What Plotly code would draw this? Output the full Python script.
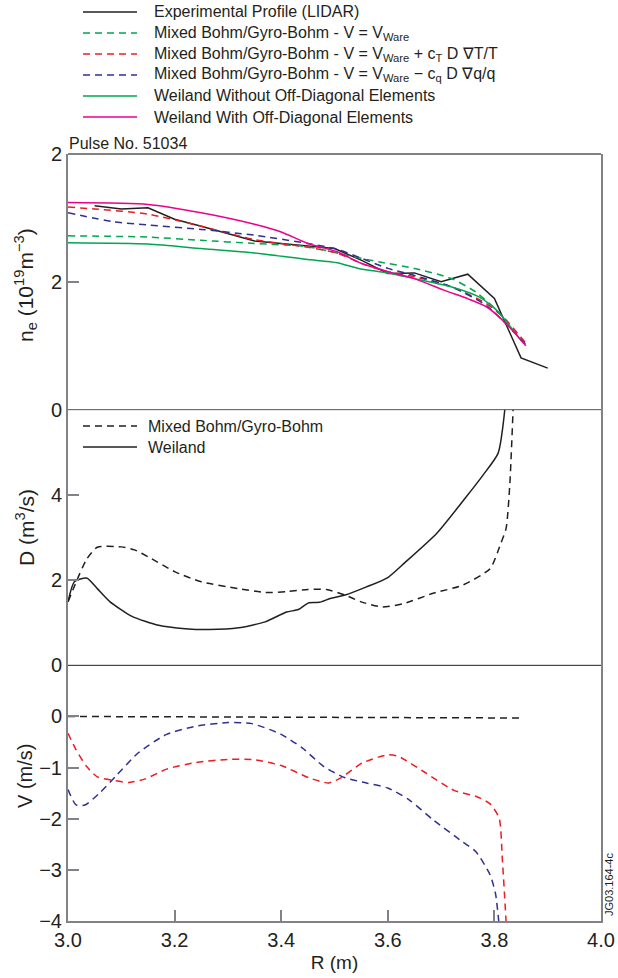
import plotly.graph_objects as go

# ---------------- data ----------------
# Panel 1: density profiles n_e (1e19 m^-3)
R_lidar = [3.05, 3.10, 3.15, 3.20, 3.25, 3.30, 3.35, 3.40, 3.45, 3.50, 3.55, 3.60, 3.65, 3.70, 3.75, 3.80, 3.85, 3.90]
ne_lidar = [3.19, 3.14, 3.16, 2.98, 2.87, 2.76, 2.64, 2.60, 2.56, 2.52, 2.34, 2.13, 2.14, 2.00, 2.12, 1.74, 0.81, 0.65]

R_mix_ware = [3.00, 3.15, 3.25, 3.35, 3.45, 3.52, 3.585, 3.65, 3.72, 3.765, 3.805, 3.852]
ne_mix_ware = [2.72, 2.70, 2.65, 2.60, 2.55, 2.42, 2.31, 2.21, 2.05, 1.84, 1.55, 1.08]

R_mix_T = [3.00, 3.05, 3.15, 3.25, 3.35, 3.45, 3.505, 3.55, 3.60, 3.65, 3.72, 3.785, 3.82, 3.86]
ne_mix_T = [3.17, 3.14, 3.06, 2.87, 2.66, 2.54, 2.45, 2.29, 2.16, 2.08, 1.92, 1.66, 1.42, 1.03]

R_mix_q = [3.00, 3.085, 3.15, 3.25, 3.35, 3.45, 3.505, 3.55, 3.60, 3.65, 3.72, 3.785, 3.86]
ne_mix_q = [3.08, 2.94, 2.89, 2.82, 2.73, 2.60, 2.51, 2.37, 2.21, 2.10, 1.92, 1.63, 1.01]

R_weil_nod = [3.00, 3.15, 3.25, 3.35, 3.45, 3.505, 3.545, 3.60, 3.65, 3.72, 3.772, 3.805, 3.852]
ne_weil_nod = [2.61, 2.59, 2.52, 2.45, 2.35, 2.30, 2.21, 2.14, 2.05, 1.92, 1.76, 1.55, 1.06]

R_weil_od = [3.00, 3.15, 3.25, 3.35, 3.40, 3.45, 3.505, 3.55, 3.60, 3.65, 3.705, 3.752, 3.785, 3.819, 3.859]
ne_weil_od = [3.24, 3.21, 3.08, 2.90, 2.78, 2.60, 2.47, 2.29, 2.16, 2.05, 1.87, 1.73, 1.61, 1.37, 1.00]

# Panel 2: diffusion coefficient D (m^2/s)
R_D_mix = [3.00, 3.035, 3.055, 3.10, 3.125, 3.15, 3.20, 3.25, 3.32, 3.37, 3.41, 3.45, 3.485, 3.52, 3.55,
           3.59, 3.63, 3.685, 3.74, 3.792, 3.812, 3.822, 3.829, 3.836]
D_mix = [1.49, 2.49, 2.77, 2.78, 2.71, 2.55, 2.20, 1.96, 1.80, 1.71, 1.73, 1.78, 1.78, 1.65, 1.49,
         1.37, 1.45, 1.69, 1.88, 2.27, 2.86, 3.22, 4.27, 6.3]

R_D_weil = [3.00, 3.012, 3.035, 3.055, 3.079, 3.12, 3.17, 3.22, 3.265, 3.32, 3.37, 3.41, 3.432, 3.452,
            3.472, 3.492, 3.52, 3.56, 3.60, 3.632, 3.692, 3.745, 3.779, 3.807, 3.822]
D_weil = [1.49, 1.96, 2.05, 1.80, 1.49, 1.15, 0.94, 0.86, 0.84, 0.88, 1.02, 1.25, 1.31, 1.47,
          1.48, 1.57, 1.65, 1.84, 2.06, 2.41, 3.10, 3.92, 4.47, 4.98, 6.3]

# Panel 3: convection velocity V (m/s)
R_V_ware = [3.00, 3.85]
V_ware = [0.00, -0.03]

R_V_T = [3.00, 3.015, 3.035, 3.055, 3.085, 3.115, 3.145, 3.185, 3.24, 3.30, 3.345, 3.40, 3.452, 3.489,
         3.512, 3.552, 3.60, 3.62, 3.672, 3.725, 3.765, 3.792, 3.809, 3.815, 3.823]
V_T = [-0.33, -0.65, -0.98, -1.18, -1.25, -1.29, -1.22, -1.03, -0.90, -0.84, -0.84, -0.96, -1.20, -1.30,
       -1.20, -0.91, -0.75, -0.78, -1.11, -1.45, -1.56, -1.71, -1.99, -2.81, -4.2]

R_V_q = [3.00, 3.015, 3.032, 3.059, 3.092, 3.132, 3.185, 3.24, 3.30, 3.345, 3.40, 3.44, 3.48, 3.52,
         3.56, 3.60, 3.64, 3.685, 3.74, 3.765, 3.792, 3.802, 3.810]
V_q = [-1.43, -1.73, -1.73, -1.50, -1.14, -0.71, -0.35, -0.19, -0.12, -0.14, -0.35, -0.62, -0.98, -1.20,
       -1.30, -1.40, -1.63, -2.02, -2.45, -2.64, -3.10, -3.46, -4.2]

x_ticks = [3.0, 3.2, 3.4, 3.6, 3.8, 4.0]
x_ticktext = ["3.0", "3.2", "3.4", "3.6", "3.8", "4.0"]
ne_ticks = [0, 2, 4]
ne_ticktext = ["0", "2", "2"]
D_ticks = [0, 2, 4]
D_ticktext = ["0", "2", "4"]
V_ticks = [0, -1, -2, -3, -4]
V_ticktext = ["0", "\u22121", "\u22122", "\u22123", "\u22124"]

legend1_names = [
    "Experimental Profile (LIDAR)",
    "Mixed Bohm/Gyro-Bohm - V = V<sub>Ware</sub>",
    "Mixed Bohm/Gyro-Bohm - V = V<sub>Ware</sub> + c<sub>T</sub> D \u2207T/T",
    "Mixed Bohm/Gyro-Bohm - V = V<sub>Ware</sub> \u2212 c<sub>q</sub> D \u2207q/q",
    "Weiland Without Off-Diagonal Elements",
    "Weiland With Off-Diagonal Elements",
]
legend2_names = ["Mixed Bohm/Gyro-Bohm", "Weiland"]

# ---------------- style ----------------
BLACK = "#231f20"
GREEN = "#00a651"
RED = "#ed1c24"
BLUE = "#2e3192"
MAGENTA = "#ec008c"
FRAME = "#808285"
FONT = "Liberation Sans, Arial, sans-serif"
DASH = "7px,5px"
LW = 1.5

W, H = 618, 978
ML, MR, MT, MB = 68, 17, 154, 57
PW = W - ML - MR
PH = H - MT - MB

def px_x(px):
    return (px - ML) / PW

def px_y(py):
    return (H - MB - py) / PH

fig = go.Figure()

def add(x, y, color, dash, name, yaxis, shape="spline"):
    fig.add_trace(go.Scatter(
        x=x, y=y, mode="lines", name=name, yaxis=yaxis, xaxis="x",
        line=dict(color=color, width=LW, dash=dash, shape=shape, smoothing=0.6),
        showlegend=False,
    ))

styles1 = [(BLACK, "solid"), (GREEN, DASH), (RED, DASH), (BLUE, DASH), (GREEN, "solid"), (MAGENTA, "solid")]
series1 = [(R_lidar, ne_lidar, "linear"), (R_mix_ware, ne_mix_ware, "spline"), (R_mix_T, ne_mix_T, "spline"),
           (R_mix_q, ne_mix_q, "spline"), (R_weil_nod, ne_weil_nod, "spline"), (R_weil_od, ne_weil_od, "spline")]
for (xs, ys, sh), (c, d), nm in zip(series1, styles1, legend1_names):
    add(xs, ys, c, d, nm, "y", shape=sh)

add(R_D_mix, D_mix, BLACK, DASH, legend2_names[0], "y2")
add(R_D_weil, D_weil, BLACK, "solid", legend2_names[1], "y2")

add(R_V_ware, V_ware, BLACK, DASH, "V_Ware", "y3", shape="linear")
add(R_V_T, V_T, RED, DASH, "V_T", "y3")
add(R_V_q, V_q, BLUE, DASH, "V_q", "y3")

yax_common = dict(
    showline=True, mirror=True, linecolor=FRAME, linewidth=2,
    ticks="inside", ticklen=11, tickcolor=FRAME, tickwidth=1.5,
    showgrid=False, zeroline=False,
    tickfont=dict(family=FONT, size=20, color=BLACK),
)

fig.update_layout(
    width=W, height=H,
    margin=dict(l=ML, r=MR, t=MT, b=MB, autoexpand=False),
    paper_bgcolor="white", plot_bgcolor="white",
    font=dict(family=FONT, color=BLACK),
    showlegend=False,
    xaxis=dict(
        range=[3.0, 4.0], domain=[0, 1], anchor="y3",
        tickvals=x_ticks, ticktext=x_ticktext,
        showline=True, mirror=False, linecolor=FRAME, linewidth=2,
        ticks="inside", ticklen=11, tickcolor=FRAME, tickwidth=1.5,
        showgrid=False, zeroline=False,
        tickfont=dict(family=FONT, size=20, color=BLACK),
        title=dict(text="R (m)", font=dict(family=FONT, size=19, color=BLACK), standoff=6),
    ),
    yaxis=dict(domain=[2/3, 1], range=[0, 4], tickvals=ne_ticks, ticktext=ne_ticktext, anchor="x", **yax_common),
    yaxis2=dict(domain=[1/3, 2/3], range=[0, 6], tickvals=D_ticks, ticktext=D_ticktext, anchor="x", **yax_common),
    yaxis3=dict(domain=[0, 1/3], range=[-4, 1], tickvals=V_ticks, ticktext=V_ticktext, anchor="x", **yax_common),
)

annotations = [
    dict(text="Pulse No. 51034", x=px_x(67), y=px_y(143), xref="paper", yref="paper",
         xanchor="left", yanchor="middle", showarrow=False, font=dict(family=FONT, size=16, color=BLACK)),
    dict(text="n<sub>e</sub> (10<sup>19</sup>m<sup>\u22123</sup>)", x=px_x(25), y=px_y(285), xref="paper", yref="paper",
         xanchor="center", yanchor="middle", textangle=-90, showarrow=False,
         font=dict(family=FONT, size=21, color=BLACK)),
    dict(text="D (m<sup>3</sup>/s)", x=px_x(25), y=px_y(528), xref="paper", yref="paper",
         xanchor="center", yanchor="middle", textangle=-90, showarrow=False,
         font=dict(family=FONT, size=21, color=BLACK)),
    dict(text="V (m/s)", x=px_x(25), y=px_y(776), xref="paper", yref="paper",
         xanchor="center", yanchor="middle", textangle=-90, showarrow=False,
         font=dict(family=FONT, size=20, color=BLACK)),
    dict(text="JG03.164-4c", x=px_x(609), y=px_y(885), xref="paper", yref="paper",
         xanchor="center", yanchor="middle", textangle=-90, showarrow=False,
         font=dict(family=FONT, size=11, color=BLACK)),
]

shapes = []
# legend keys (decoration) for the upper legend
LEG_X0, LEG_X1, LEG_TX = 83, 137, 152
rows1 = [12, 33, 54, 75, 96, 117]
for (c, d), nm, ry in zip(styles1, legend1_names, rows1):
    shapes.append(dict(type="line", xref="paper", yref="paper",
                       x0=px_x(LEG_X0), x1=px_x(LEG_X1), y0=px_y(ry), y1=px_y(ry),
                       line=dict(color=c, width=LW, dash=d)))
    annotations.append(dict(text=nm, x=px_x(LEG_TX), y=px_y(ry), xref="paper", yref="paper",
                            xanchor="left", yanchor="middle", showarrow=False,
                            font=dict(family=FONT, size=16, color=BLACK)))
# legend in D panel
rows2 = [426, 447]
for d, nm, ry in zip([DASH, "solid"], legend2_names, rows2):
    shapes.append(dict(type="line", xref="paper", yref="paper",
                       x0=px_x(LEG_X0), x1=px_x(LEG_X1), y0=px_y(ry), y1=px_y(ry),
                       line=dict(color=BLACK, width=LW, dash=d)))
    annotations.append(dict(text=nm, x=px_x(146), y=px_y(ry), xref="paper", yref="paper",
                            xanchor="left", yanchor="middle", showarrow=False,
                            font=dict(family=FONT, size=16, color=BLACK)))

# frame top edge and panel separators
shapes.append(dict(type="line", xref="paper", yref="paper", x0=0, x1=1, y0=1, y1=1,
                   line=dict(color=FRAME, width=2)))
shapes.append(dict(type="line", xref="paper", yref="paper", x0=0, x1=1, y0=2/3, y1=2/3,
                   line=dict(color="#555555", width=1)))
shapes.append(dict(type="line", xref="paper", yref="paper", x0=0, x1=1, y0=1/3, y1=1/3,
                   line=dict(color=BLACK, width=1)))

fig.update_layout(annotations=annotations, shapes=shapes)

fig.write_html("out.html")
